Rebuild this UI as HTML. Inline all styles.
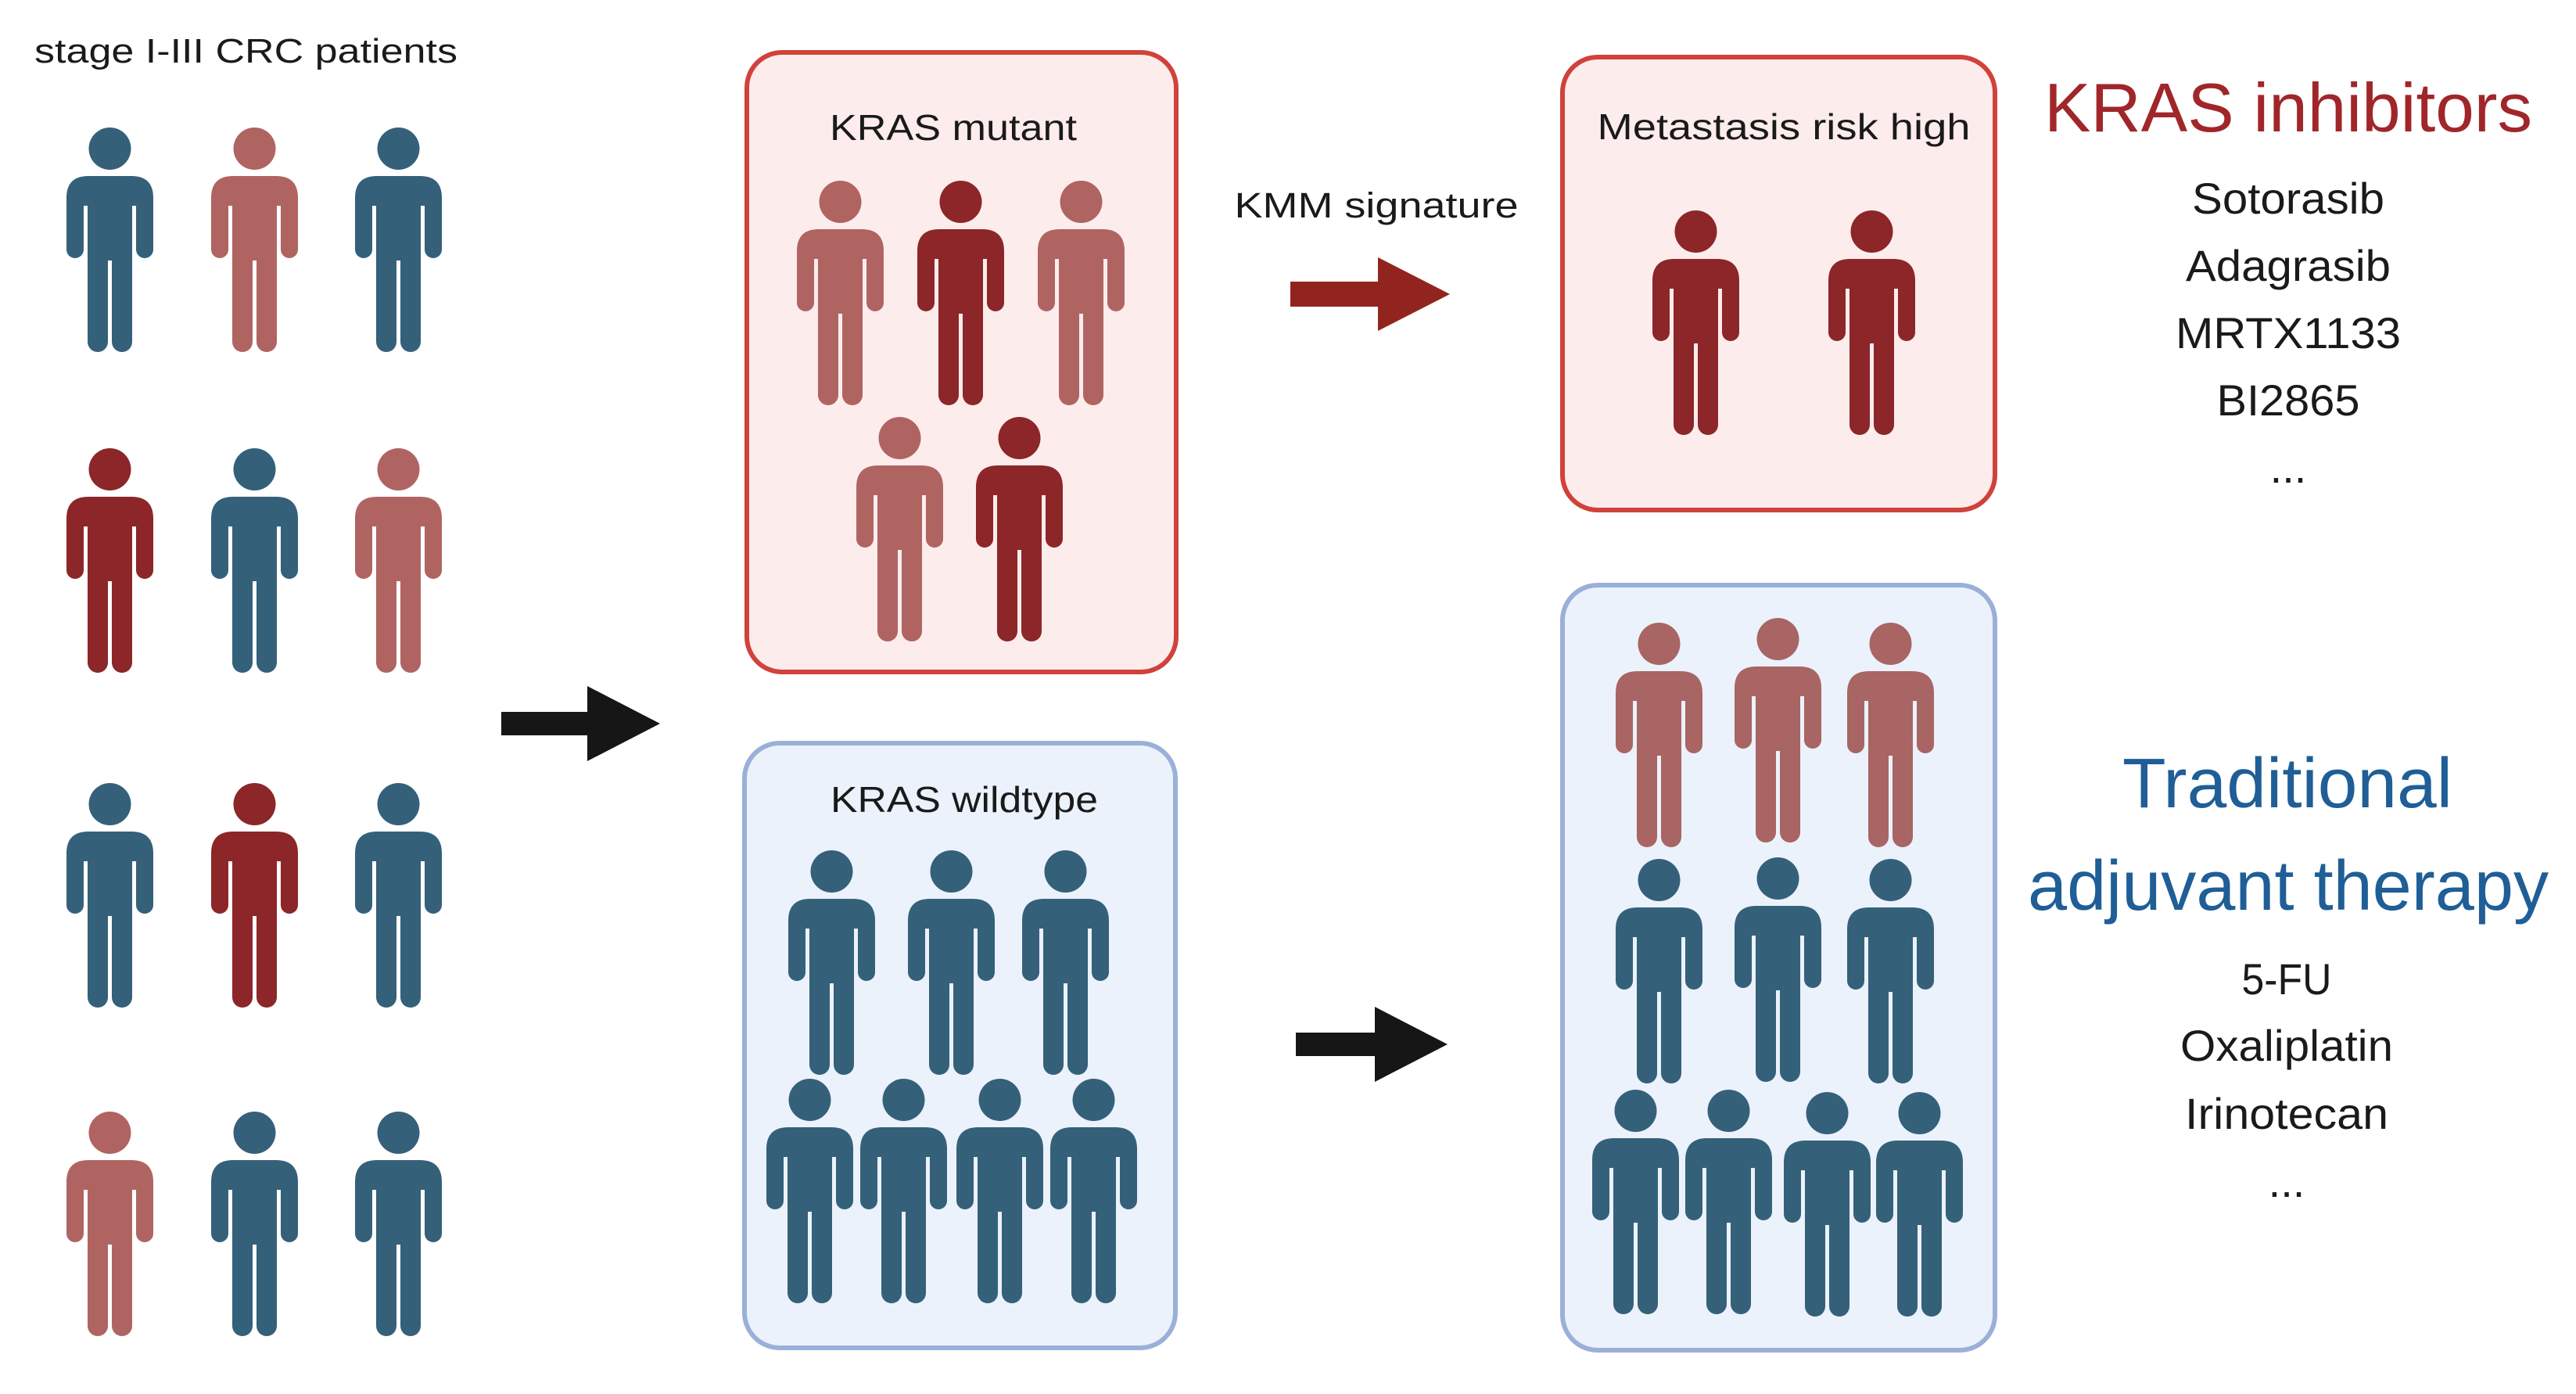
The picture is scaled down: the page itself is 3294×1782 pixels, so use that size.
<!DOCTYPE html>
<html><head><meta charset="utf-8"><style>html,body{margin:0;padding:0;background:#fff}svg{display:block}</style></head>
<body>
<svg width="3294" height="1782" viewBox="0 0 3294 1782" xmlns="http://www.w3.org/2000/svg">
<defs>
<g id="p">
<circle cx="55.5" cy="27" r="27"/>
<path d="M0,100 V90 Q0,62 28,62 H83 Q111,62 111,90 V100 Z"/>
<rect x="0" y="85" width="22" height="82" rx="11"/>
<rect x="89" y="85" width="22" height="82" rx="11"/>
<rect x="27" y="80" width="57" height="90"/>
<rect x="27" y="150" width="26" height="137" rx="13"/>
<rect x="58" y="150" width="26" height="137" rx="13"/>
</g>
</defs>
<g font-family="'Liberation Sans', sans-serif" fill="#1a1a1a">
<text x="44" y="80" font-size="44" textLength="541" lengthAdjust="spacingAndGlyphs">stage I-III CRC patients</text>
</g>
<!-- left grid -->
<g>
<use href="#p" x="85" y="163" fill="#35607A"/><use href="#p" x="270" y="163" fill="#B06462"/><use href="#p" x="454" y="163" fill="#35607A"/>
<use href="#p" x="85" y="573" fill="#8C2628"/><use href="#p" x="270" y="573" fill="#35607A"/><use href="#p" x="454" y="573" fill="#B06462"/>
<use href="#p" x="85" y="1001" fill="#35607A"/><use href="#p" x="270" y="1001" fill="#8C2628"/><use href="#p" x="454" y="1001" fill="#35607A"/>
<use href="#p" x="85" y="1421" fill="#B06462"/><use href="#p" x="270" y="1421" fill="#35607A"/><use href="#p" x="454" y="1421" fill="#35607A"/>
</g>
<!-- black arrow 1 -->
<path d="M641,910 H751 V877 L844,925 L751,973 V940 H641 Z" fill="#161616"/>
<!-- KRAS mutant box -->
<rect x="955" y="67" width="549" height="792" rx="45" fill="#FDECEC" stroke="#D0423B" stroke-width="6"/>
<text x="1219" y="179" font-family="'Liberation Sans', sans-serif" font-size="46" text-anchor="middle" textLength="316" lengthAdjust="spacingAndGlyphs" fill="#1a1a1a">KRAS mutant</text>
<use href="#p" x="1019" y="231" fill="#B06462"/><use href="#p" x="1173" y="231" fill="#8C2628"/><use href="#p" x="1327" y="231" fill="#B06462"/>
<use href="#p" x="1095" y="533" fill="#B06462"/><use href="#p" x="1248" y="533" fill="#8C2628"/>
<!-- KRAS wildtype box -->
<rect x="952" y="950" width="551" height="773" rx="45" fill="#EBF2FB" stroke="#9AB0D8" stroke-width="6"/>
<text x="1233" y="1038" font-family="'Liberation Sans', sans-serif" font-size="46" text-anchor="middle" textLength="342" lengthAdjust="spacingAndGlyphs" fill="#1a1a1a">KRAS wildtype</text>
<use href="#p" x="1008" y="1087" fill="#35607A"/><use href="#p" x="1161" y="1087" fill="#35607A"/><use href="#p" x="1307" y="1087" fill="#35607A"/>
<use href="#p" x="980" y="1379" fill="#35607A"/><use href="#p" x="1100" y="1379" fill="#35607A"/><use href="#p" x="1223" y="1379" fill="#35607A"/><use href="#p" x="1343" y="1379" fill="#35607A"/>
<!-- red arrow -->
<text x="1760" y="278" font-family="'Liberation Sans', sans-serif" font-size="45" text-anchor="middle" textLength="363" lengthAdjust="spacingAndGlyphs" fill="#1a1a1a">KMM signature</text>
<path d="M1650,360 H1762 V329 L1854,376 L1762,423 V392 H1650 Z" fill="#922420"/>
<!-- black arrow 2 -->
<path d="M1657,1320 H1758 V1287 L1851,1335 L1758,1383 V1350 H1657 Z" fill="#161616"/>
<!-- metastasis box -->
<rect x="1998" y="73" width="553" height="579" rx="45" fill="#FDECEC" stroke="#D0423B" stroke-width="6"/>
<text x="2281" y="178" font-family="'Liberation Sans', sans-serif" font-size="46" text-anchor="middle" textLength="477" lengthAdjust="spacingAndGlyphs" fill="#1a1a1a">Metastasis risk high</text>
<use href="#p" x="2113" y="269" fill="#8C2628"/><use href="#p" x="2338" y="269" fill="#8C2628"/>
<!-- bottom right box -->
<rect x="1998" y="748" width="553" height="978" rx="45" fill="#EBF2FB" stroke="#9AB0D8" stroke-width="6"/>
<use href="#p" x="2066" y="796" fill="#A86563"/><use href="#p" x="2218" y="790" fill="#A86563"/><use href="#p" x="2362" y="796" fill="#A86563"/>
<use href="#p" x="2066" y="1098" fill="#35607A"/><use href="#p" x="2218" y="1096" fill="#35607A"/><use href="#p" x="2362" y="1098" fill="#35607A"/>
<use href="#p" x="2036" y="1393" fill="#35607A"/><use href="#p" x="2155" y="1393" fill="#35607A"/><use href="#p" x="2281" y="1396" fill="#35607A"/><use href="#p" x="2399" y="1396" fill="#35607A"/>
<!-- right texts -->
<g font-family="'Liberation Sans', sans-serif" text-anchor="middle">
<text x="2926" y="168" font-size="88" fill="#A0262A" textLength="624" lengthAdjust="spacingAndGlyphs">KRAS inhibitors</text>
<g font-size="56" fill="#1a1a1a">
<text x="2926" y="273" textLength="246" lengthAdjust="spacingAndGlyphs">Sotorasib</text>
<text x="2926" y="359" textLength="262" lengthAdjust="spacingAndGlyphs">Adagrasib</text>
<text x="2926" y="445" textLength="288" lengthAdjust="spacingAndGlyphs">MRTX1133</text>
<text x="2926" y="531" textLength="183" lengthAdjust="spacingAndGlyphs">BI2865</text>
<text x="2926" y="617">...</text>
</g>
<text x="2925" y="1032" font-size="90" fill="#1F5E96" textLength="422" lengthAdjust="spacingAndGlyphs">Traditional</text>
<text x="2926" y="1163" font-size="90" fill="#1F5E96" textLength="666" lengthAdjust="spacingAndGlyphs">adjuvant therapy</text>
<g font-size="56" fill="#1a1a1a">
<text x="2924" y="1271" textLength="115" lengthAdjust="spacingAndGlyphs">5-FU</text>
<text x="2924" y="1356" textLength="272" lengthAdjust="spacingAndGlyphs">Oxaliplatin</text>
<text x="2924" y="1443" textLength="260" lengthAdjust="spacingAndGlyphs">Irinotecan</text>
<text x="2924" y="1530">...</text>
</g>
</g>
</svg>
</body></html>
